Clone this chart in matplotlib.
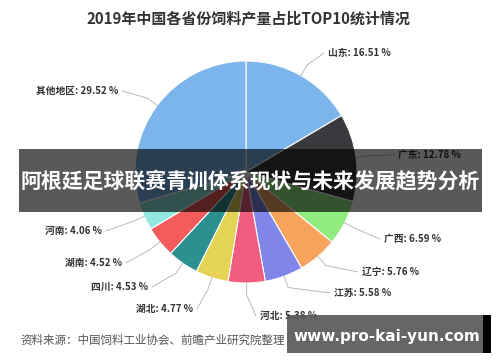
import matplotlib
matplotlib.use("Agg")
import matplotlib.pyplot as plt
from matplotlib.patches import Rectangle
import numpy as np

plt.rcParams['font.family'] = ['Noto Sans CJK SC', 'DejaVu Sans']

categories = ["山东", "广东", "广西", "辽宁", "江苏", "河北", "湖北", "四川", "湖南", "河南", "其他地区"]
values = [16.51, 12.78, 6.59, 5.76, 5.58, 5.38, 4.77, 4.53, 4.52, 4.06, 29.52]
colors = ['#7cb5ec', '#3a3a3e', '#90ed7d', '#f7a35c', '#8085e9', '#f15c80',
          '#e4d354', '#2b908f', '#f45b5b', '#91e8e1', '#7cb5ec']
title = "2019年中国各省份饲料产量占比TOP10统计情况"
banner = "阿根廷足球联赛青训体系现状与未来发展趋势分析"
source = "资料来源：中国饲料工业协会、前瞻产业研究院整理"
watermark = "www.pro-kai-yun.com"

W, H = 500, 362
fig = plt.figure(figsize=(5.0, 3.62), dpi=100)
ax = fig.add_axes([0, 0, 1, 1])

def py(y):
    return H - y

cx, cy, R = 246, py(172), 111
wedges, _ = ax.pie(values, colors=colors, startangle=90, counterclock=False,
                   center=(cx, cy), radius=R, frame=True,
                   wedgeprops=dict(edgecolor='white', linewidth=0.8))
ax.set_xlim(0, W)
ax.set_ylim(0, H)
ax.set_aspect('equal')
ax.axis('off')

# label anchor positions (pixel coords): (x, y, ha)
label_pos = [
    (328, 53, 'left'), (398, 155, 'left'), (384, 239, 'left'), (362, 272, 'left'),
    (334, 293, 'left'), (260, 316, 'left'), (193, 309, 'right'), (148, 287, 'right'),
    (122, 263, 'right'), (102, 231, 'right'), (118, 91, 'right'),
]

for w, cat, v, (lx, ly, ha) in zip(wedges, categories, values, label_pos):
    ang = np.deg2rad((w.theta1 + w.theta2) / 2)
    ex, ey = cx + R * np.cos(ang), cy + R * np.sin(ang)
    mx, my = cx + (R + 12) * np.cos(ang), cy + (R + 12) * np.sin(ang)
    tx = lx - 4 if ha == 'left' else lx + 4
    ax.plot([ex, mx, tx], [ey, my, py(ly)], color='#b0b0b0', lw=0.6, zorder=3)
    ax.text(lx, py(ly), f"{cat}: {v:.2f} %", ha=ha, va='center', fontsize=7,
            fontweight='bold', color='#333333', zorder=4)

ax.text(248, py(18), title, ha='center', va='center', fontsize=10.8,
        fontweight='bold', color='#333333', zorder=4)

ax.text(20, py(340), source, ha='left', va='center', fontsize=8.3,
        color='#555555', zorder=4)

# banner overlay
ax.add_patch(Rectangle((19, py(212)), 463, 63, facecolor='black', alpha=0.65,
                       edgecolor='none', zorder=10))
ax.text(250, py(182), banner, ha='center', va='center', fontsize=15,
        fontweight='bold', color='white', zorder=11)

# watermark box
ax.add_patch(Rectangle((287, py(353)), 196, 38, facecolor='#555555', alpha=0.9,
                       edgecolor='none', zorder=10))
ax.add_patch(Rectangle((483, py(353)), 8, 38, facecolor='black',
                       edgecolor='none', zorder=10))
ax.text(387, py(336), watermark, ha='center', va='center', fontsize=11,
        fontweight='bold', color='white', family='DejaVu Sans', zorder=11)

fig.savefig("out.png", dpi=100)
